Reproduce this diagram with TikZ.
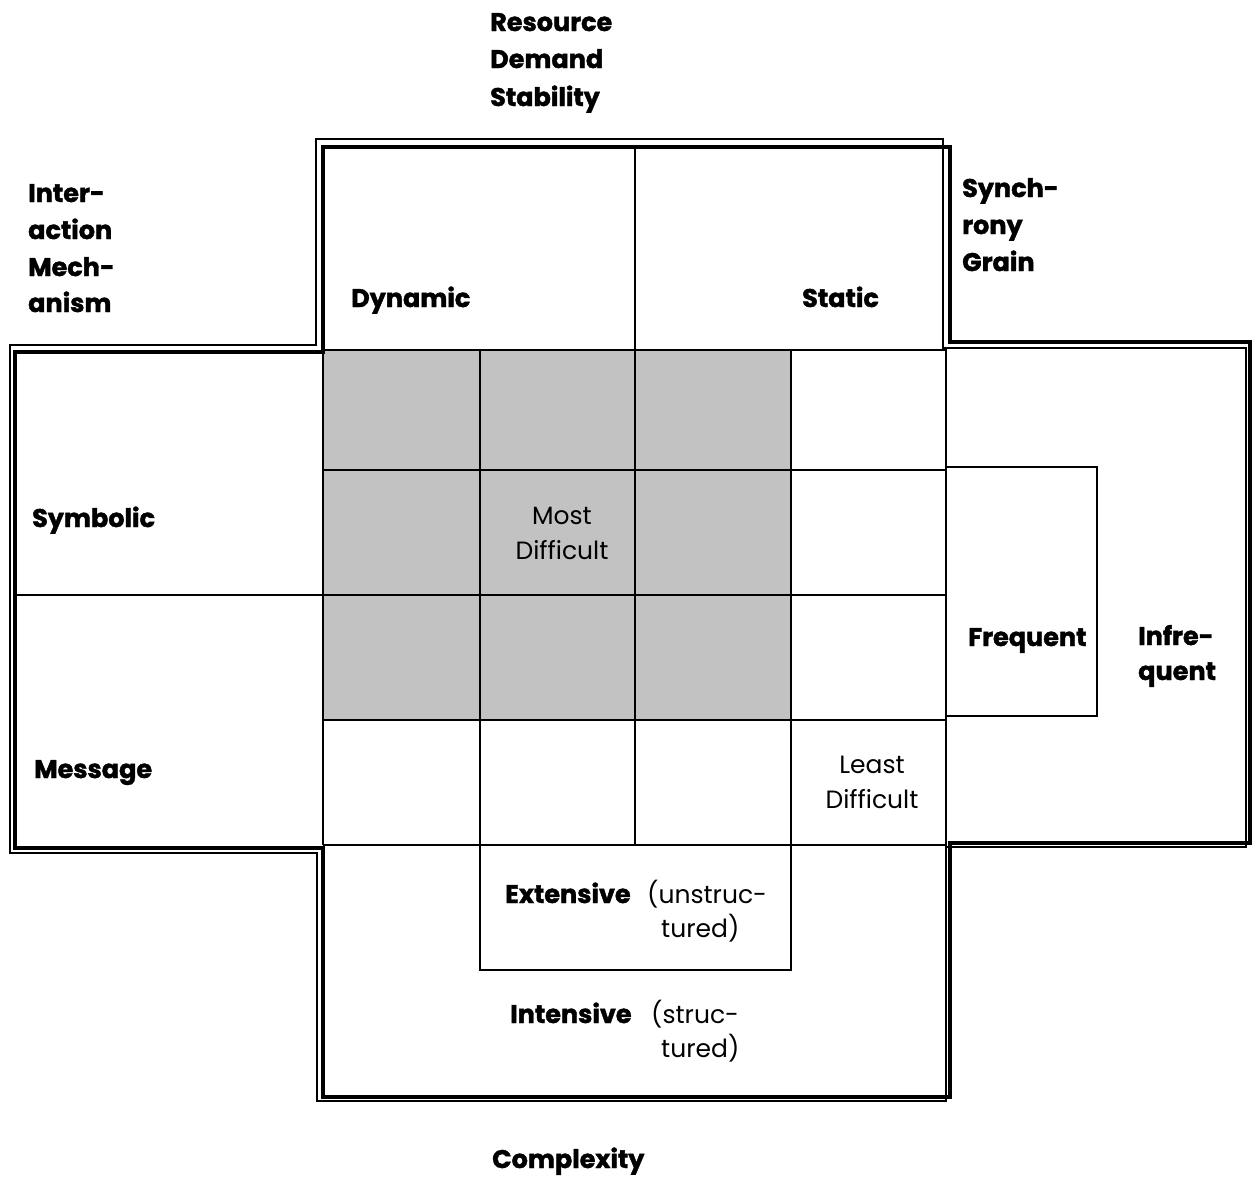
\documentclass[tikz,border=0pt]{standalone}
\usepackage{fontspec}
\setmainfont{Poppins}[BoldFeatures={FakeBold=1.6}]
\begin{document}
\begin{tikzpicture}[x=1pt,y=-1pt,
  thickline/.style={line width=4.5pt,line join=miter},
  thinline/.style={line width=1.8pt},
  gridline/.style={line width=1.8pt},
  bl/.style={anchor=base west,inner sep=0pt,font=\fontsize{25.5}{30}\selectfont\bfseries},
  rl/.style={anchor=base,inner sep=0pt,font=\fontsize{25}{30}\selectfont},
  rlw/.style={anchor=base west,inner sep=0pt,font=\fontsize{25}{30}\selectfont}]
\useasboundingbox (0,0) rectangle (1253,1178);
% shading
\fill[black!24] (323,350) rectangle (791,720);
% grid
\draw[gridline] (635,147) -- (635,845);
\draw[gridline] (480,350) -- (480,970) -- (791,970) -- (791,350);
\draw[gridline] (946,348) -- (946,847);
\draw[gridline] (323,350) -- (946,350);
\draw[gridline] (323,470) -- (946,470);
\draw[gridline] (15,595) -- (946,595);
\draw[gridline] (323,720) -- (946,720);
\draw[gridline] (323,845) -- (946,845);
\draw[gridline] (946,467) -- (1097,467) -- (1097,716) -- (946,716);
\draw[gridline] (323,350) -- (323,845);
% outlines
\draw[thinline] (316,139) -- (943,139) -- (943,348) -- (1246,348) -- (1246,847) -- (946,847) -- (946,1101) -- (317,1101) -- (317,853) -- (10,853) -- (10,345) -- (316,345) -- cycle;
\draw[thickline] (323,147) -- (950,147) -- (950,342) -- (1250,342) -- (1250,843) -- (950,843) -- (950,1097) -- (323,1097) -- (323,848) -- (15,848) -- (15,352) -- (323,352) -- cycle;
% labels
\node[bl] (r1) at (490,31) {Resource};
\node[bl] (r2) at (490,68) {Demand};
\node[bl] (r3) at (490,106) {Stability};
\node[bl] (i1) at (28,202) {Inter-};
\node[bl] (i2) at (28,239) {action};
\node[bl] (i3) at (28,276) {Mech-};
\node[bl] (i4) at (28,312) {anism};
\node[bl] (s1) at (962,197) {Synch-};
\node[bl] (s2) at (962,234) {rony};
\node[bl] (s3) at (962,271) {Grain};
\node[bl] (dyn) at (351,307) {Dynamic};
\node[bl] (sta) at (802,307) {Static};
\node[bl] (sym) at (32,527) {Symbolic};
\node[bl] (msg) at (34,778) {Message};
\node[rl] (md1) at (562,524) {Most};
\node[rl] (md2) at (562,559) {Difficult};
\node[rl] (ld1) at (872,773) {Least};
\node[rl] (ld2) at (872,808) {Difficult};
\node[bl] (frq) at (968,646) {Frequent};
\node[bl] (inf1) at (1138,645) {Infre-};
\node[bl] (inf2) at (1138,680) {quent};
\node[bl] (ext) at (505,903) {Extensive};
\node[rlw] (ext1) at (647,903) {(unstruc-};
\node[rlw] (ext2) at (661,937) {tured)};
\node[bl] (int) at (510,1023) {Intensive};
\node[rlw] (int1) at (651,1023) {(struc-};
\node[rlw] (int2) at (661,1057) {tured)};
\node[bl] (cpx) at (492,1168) {Complexity};
\end{tikzpicture}
\end{document}
